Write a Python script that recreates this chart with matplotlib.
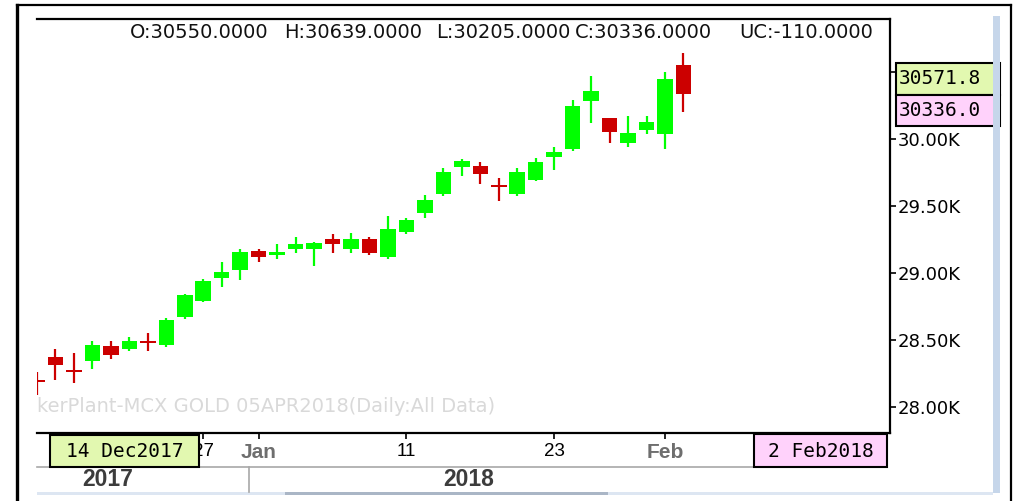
import matplotlib
matplotlib.use("Agg")
import matplotlib.pyplot as plt
from matplotlib.patches import Rectangle
from matplotlib.lines import Line2D
import matplotlib.transforms as mtransforms

# ---------------- data ----------------
dates = ["2017-12-13", "2017-12-14", "2017-12-15", "2017-12-18", "2017-12-19",
         "2017-12-20", "2017-12-21", "2017-12-22", "2017-12-26", "2017-12-27",
         "2017-12-28", "2017-12-29", "2018-01-01", "2018-01-02", "2018-01-03",
         "2018-01-04", "2018-01-05", "2018-01-08", "2018-01-09", "2018-01-10",
         "2018-01-11", "2018-01-12", "2018-01-15", "2018-01-16", "2018-01-17",
         "2018-01-18", "2018-01-19", "2018-01-22", "2018-01-23", "2018-01-24",
         "2018-01-25", "2018-01-29", "2018-01-30", "2018-01-31", "2018-02-01",
         "2018-02-02"]
opens = [28200, 28373, 28277, 28345, 28457, 28433, 28495, 28463, 28669, 28791,
         28963, 29022, 29162, 29134, 29181, 29181, 29254, 29181, 29254, 29122,
         29306, 29445, 29587, 29788, 29801, 29655, 29587, 29694, 29863, 29923,
         30284, 30154, 29973, 30067, 30035, 30550]
highs = [28263, 28433, 28400, 28493, 28495, 28525, 28555, 28666, 28840, 28958,
         29085, 29177, 29179, 29220, 29271, 29234, 29289, 29299, 29271, 29425,
         29408, 29582, 29781, 29848, 29828, 29707, 29781, 29860, 29938, 30291,
         30470, 30154, 30169, 30169, 30497, 30639]
lows = [28090, 28201, 28181, 28281, 28356, 28418, 28420, 28448, 28660, 28785,
        28898, 28948, 29085, 29102, 29147, 29055, 29147, 29152, 29134, 29104,
        29291, 29413, 29575, 29726, 29662, 29537, 29575, 29690, 29769, 29910,
        30119, 29973, 29940, 30035, 29925, 30205]
closes = [28185, 28313, 28262, 28460, 28388, 28493, 28480, 28649, 28834, 28943,
          29007, 29160, 29119, 29160, 29220, 29224, 29214, 29251, 29152, 29328,
          29393, 29545, 29751, 29833, 29741, 29640, 29751, 29828, 29905, 30250,
          30358, 30050, 30045, 30124, 30446, 30336]

yticks = [28000, 28500, 29000, 29500, 30000]
ytick_labels = ["28.00K", "28.50K", "29.00K", "29.50K", "30.00K"]
xtick_dates = ["2017-12-27", "2018-01-01", "2018-01-11", "2018-01-23", "2018-02-01"]
xtick_labels = ["27", "Jan", "11", "23", "Feb"]
month_labels = ["Jan", "Feb"]
header = ["O:30550.0000", "H:30639.0000", "L:30205.0000", "C:30336.0000", "UC:-110.0000"]
marker_values = ["30571.8", "30336.0"]
cursor_dates = ["14 Dec2017", "2 Feb2018"]
years = ["2017", "2018"]
watermark = "kerPlant-MCX GOLD 05APR2018(Daily:All Data)"

# ---------------- layout helpers ----------------
W, H = 1023, 501
def fx(x):
    return x / W
def fy(y):
    return 1 - y / H

UP = "#00ff00"
DOWN = "#cc0000"

fig = plt.figure(figsize=(W / 100, H / 100), dpi=100)
fig.patch.set_facecolor("white")

ax = fig.add_axes([fx(37), fy(433), fx(890) - fx(37), fy(19) - fy(433)])
ax.set_facecolor("white")

# ---------------- candles ----------------
xs = list(range(len(dates)))
for i in xs:
    o, h, l, c = opens[i], highs[i], lows[i], closes[i]
    col = UP if c >= o else DOWN
    ax.vlines(i, l, h, color=col, lw=1.6, zorder=2)
    body = max(abs(c - o), 12)
    ax.bar(i, body, bottom=min(o, c), width=0.84, color=col, linewidth=0, zorder=3)

ax.set_xlim(0, 46.18)
ax.set_ylim(27806, 30896)

# axes styling
ax.spines["left"].set_visible(False)
for s in ["top", "right", "bottom"]:
    ax.spines[s].set_color("black")
    ax.spines[s].set_linewidth(1.6)

ax.yaxis.tick_right()
ax.set_yticks(yticks)
ax.set_yticklabels(ytick_labels, fontsize=13, family="DejaVu Sans", color="black")
ax.tick_params(axis="y", direction="out", length=4, width=1.2, pad=1.5)

xpos = [dates.index(d) for d in xtick_dates]
ax.set_xticks(xpos)
ax.set_xticklabels(xtick_labels, fontsize=13.5, family="Liberation Sans")
ax.tick_params(axis="x", direction="out", length=4, width=1.2, pad=3.5)
for lbl in ax.get_xticklabels():
    if lbl.get_text() in month_labels:
        lbl.set_fontweight("bold")
        lbl.set_color("#6e6e6e")
        lbl.set_fontsize(15)
    else:
        lbl.set_color("black")

# watermark
fig.text(fx(37), fy(407), watermark, fontsize=14, family="DejaVu Sans",
         color="#d9d9d9", ha="left", va="center", zorder=1)

# header
for xpx, s in zip([130, 284, 436, 575, 739], header):
    fig.text(fx(xpx), fy(32), s, fontsize=14, family="DejaVu Sans",
             color="#111111", ha="left", va="center")

# ---------------- decorations ----------------
def frect(x0, y0, x1, y1, **kw):
    r = Rectangle((fx(x0), fy(y1)), fx(x1) - fx(x0), fy(y0) - fy(y1),
                  transform=fig.transFigure, **kw)
    fig.add_artist(r)
    return r

def fline(x0, y0, x1, y1, **kw):
    ln = Line2D([fx(x0), fx(x1)], [fy(y0), fy(y1)], transform=fig.transFigure, **kw)
    fig.add_artist(ln)
    return ln

# outer frame
fline(16.5, 5, 16.5, 501, color="black", lw=2.4, zorder=10)
fline(16.5, 5, 1011, 5, color="black", lw=1.6, zorder=10)
fline(1011, 5, 1011, 501, color="black", lw=1.6, zorder=10)

# right light-blue strip
frect(993, 16, 999.5, 493, facecolor="#c6d6ea", edgecolor="none", zorder=4)

# bottom scrollbar
frect(37, 491.5, 285, 495, facecolor="#dde6f2", edgecolor="none", zorder=4)
frect(285, 491.5, 608, 495, facecolor="#aab6c6", edgecolor="none", zorder=4)
frect(608, 491.5, 993, 495, facecolor="#dde6f2", edgecolor="none", zorder=4)

# date-axis separator lines
fline(37, 466.7, 754, 466.7, color="#a8a8a8", lw=1.2, zorder=4)
year_sep = mtransforms.blended_transform_factory(ax.transData, fig.transFigure)
sep_x = (dates.index("2017-12-29") + dates.index("2018-01-01")) / 2
fig.add_artist(Line2D([sep_x, sep_x], [fy(467), fy(492)], transform=year_sep,
                      color="#a8a8a8", lw=1.2, zorder=4))

# years
for xpx, s in zip([108, 469], years):
    fig.text(fx(xpx), fy(479), s, fontsize=16.5, family="Liberation Sans",
             fontweight="bold", color="#3c3c3c", ha="center", va="center")

# cursor date boxes
frect(50, 435, 199, 467, facecolor="#e2f8b0", edgecolor="black", lw=1.5, zorder=6)
fig.text(fx(124.5), fy(451.5), cursor_dates[0], fontsize=14, family="DejaVu Sans Mono",
         color="black", ha="center", va="center", zorder=7)
frect(754, 434, 887, 467, facecolor="#ffd2fb", edgecolor="black", lw=1.5, zorder=6)
fig.text(fx(820.5), fy(451.5), cursor_dates[1], fontsize=14, family="DejaVu Sans Mono",
         color="black", ha="center", va="center", zorder=7)

# value marker boxes on the right
frect(896, 63, 1000, 95, facecolor="#e2f8b0", edgecolor="black", lw=1.5, zorder=5)
frect(896, 95, 1000, 125.5, facecolor="#ffd2fb", edgecolor="black", lw=1.5, zorder=5)
frect(993, 60, 1000, 128, facecolor="#c6d6ea", edgecolor="none", zorder=5.5)
fline(890, 72, 896, 72, color="black", lw=1.2, zorder=5)
fig.text(fx(899), fy(79), marker_values[0], fontsize=14, family="DejaVu Sans Mono",
         color="black", ha="left", va="center", zorder=7)
fig.text(fx(899), fy(110.5), marker_values[1], fontsize=14, family="DejaVu Sans Mono",
         color="black", ha="left", va="center", zorder=7)

fig.savefig("out.png", dpi=100, facecolor="white")
